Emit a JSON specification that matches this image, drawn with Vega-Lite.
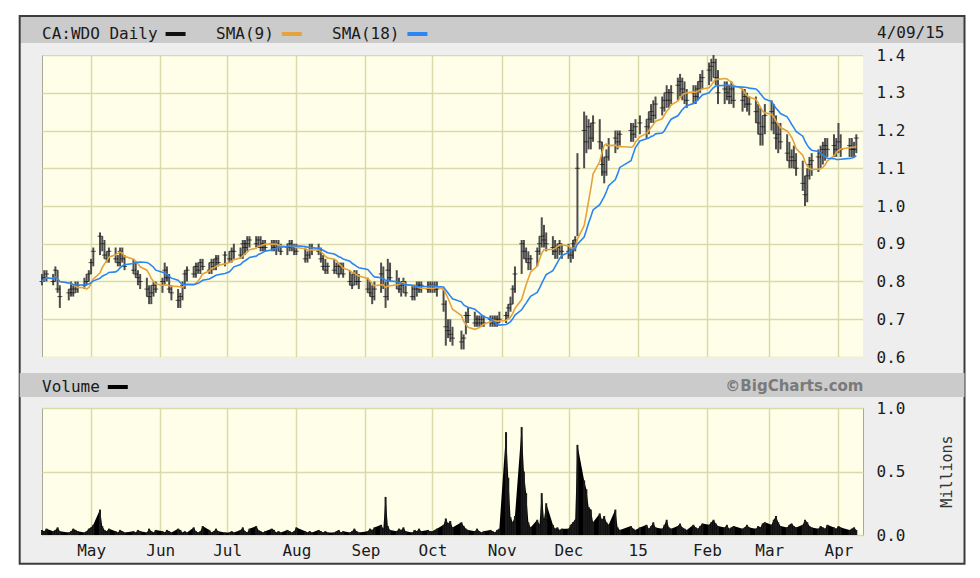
{
"$schema": "https://vega.github.io/schema/vega-lite/v6.json",
"padding": {"left": 18, "top": 14, "right": 15, "bottom": 13},
"autosize": {"type": "pad"},
"background": "white",
"bounds": "flush",
"spacing": 51,
"resolve": {"scale": {"color": "independent"}, "legend": {"color": "independent"}},
"config": {
  "view": {"fill": "#ffffe9", "stroke": "#a8a898", "strokeWidth": 1},
  "font": "DejaVu Sans Mono",
  "axis": {"labelFont": "DejaVu Sans Mono", "labelFontSize": 16, "labelColor": "#1a1a1a", "gridColor": "#d9d9a9", "gridWidth": 1.5, "gridOpacity": 1, "domain": false, "ticks": false},
  "legend": {"symbolType": "stroke", "symbolStrokeWidth": 4, "symbolSize": 400, "labelFont": "DejaVu Sans Mono", "labelFontSize": 16, "labelColor": "#1a1a1a", "columnPadding": 22, "padding": 0, "direction": "horizontal", "orient": "none", "legendX": 0, "legendY": -33}
},
"data": {"values": [
{"d":"2014-04-09","h":0.82,"l":0.79,"c":0.80,"v":0.04},
{"d":"2014-04-10","h":0.83,"l":0.80,"c":0.81,"v":0.03},
{"d":"2014-04-11","h":0.83,"l":0.80,"c":0.82,"v":0.05},
{"d":"2014-04-14","h":0.82,"l":0.79,"c":0.80,"v":0.03},
{"d":"2014-04-15","h":0.84,"l":0.80,"c":0.83,"v":0.04},
{"d":"2014-04-16","h":0.83,"l":0.77,"c":0.78,"v":0.06},
{"d":"2014-04-17","h":0.79,"l":0.73,"c":0.76,"v":0.03},
{"d":"2014-04-21","h":0.78,"l":0.75,"c":0.77,"v":0.02},
{"d":"2014-04-22","h":0.80,"l":0.76,"c":0.78,"v":0.03},
{"d":"2014-04-23","h":0.79,"l":0.76,"c":0.77,"v":0.05},
{"d":"2014-04-24","h":0.80,"l":0.77,"c":0.78,"v":0.04},
{"d":"2014-04-25","h":0.80,"l":0.77,"c":0.79,"v":0.03},
{"d":"2014-04-28","h":0.81,"l":0.78,"c":0.79,"v":0.02},
{"d":"2014-04-29","h":0.82,"l":0.79,"c":0.80,"v":0.03},
{"d":"2014-04-30","h":0.83,"l":0.80,"c":0.82,"v":0.05},
{"d":"2014-05-01","h":0.86,"l":0.82,"c":0.85,"v":0.06},
{"d":"2014-05-02","h":0.89,"l":0.84,"c":0.88,"v":0.08},
{"d":"2014-05-05","h":0.93,"l":0.87,"c":0.92,"v":0.20},
{"d":"2014-05-06","h":0.92,"l":0.88,"c":0.90,"v":0.07},
{"d":"2014-05-07","h":0.91,"l":0.86,"c":0.87,"v":0.04},
{"d":"2014-05-08","h":0.88,"l":0.85,"c":0.86,"v":0.03},
{"d":"2014-05-09","h":0.89,"l":0.85,"c":0.88,"v":0.05},
{"d":"2014-05-12","h":0.89,"l":0.85,"c":0.86,"v":0.03},
{"d":"2014-05-13","h":0.87,"l":0.84,"c":0.85,"v":0.02},
{"d":"2014-05-14","h":0.89,"l":0.84,"c":0.88,"v":0.04},
{"d":"2014-05-15","h":0.89,"l":0.85,"c":0.86,"v":0.03},
{"d":"2014-05-16","h":0.87,"l":0.83,"c":0.84,"v":0.02},
{"d":"2014-05-20","h":0.86,"l":0.82,"c":0.83,"v":0.03},
{"d":"2014-05-21","h":0.85,"l":0.81,"c":0.82,"v":0.02},
{"d":"2014-05-22","h":0.83,"l":0.79,"c":0.81,"v":0.04},
{"d":"2014-05-23","h":0.82,"l":0.78,"c":0.80,"v":0.03},
{"d":"2014-05-26","h":0.81,"l":0.76,"c":0.78,"v":0.02},
{"d":"2014-05-27","h":0.79,"l":0.74,"c":0.76,"v":0.05},
{"d":"2014-05-28","h":0.79,"l":0.74,"c":0.77,"v":0.03},
{"d":"2014-05-29","h":0.80,"l":0.76,"c":0.79,"v":0.02},
{"d":"2014-05-30","h":0.80,"l":0.77,"c":0.78,"v":0.04},
{"d":"2014-06-02","h":0.81,"l":0.77,"c":0.80,"v":0.03},
{"d":"2014-06-03","h":0.85,"l":0.79,"c":0.83,"v":0.02},
{"d":"2014-06-04","h":0.84,"l":0.80,"c":0.81,"v":0.04},
{"d":"2014-06-05","h":0.82,"l":0.77,"c":0.78,"v":0.03},
{"d":"2014-06-06","h":0.79,"l":0.75,"c":0.77,"v":0.02},
{"d":"2014-06-09","h":0.78,"l":0.73,"c":0.75,"v":0.05},
{"d":"2014-06-10","h":0.77,"l":0.73,"c":0.76,"v":0.04},
{"d":"2014-06-11","h":0.80,"l":0.75,"c":0.79,"v":0.02},
{"d":"2014-06-12","h":0.83,"l":0.78,"c":0.82,"v":0.03},
{"d":"2014-06-13","h":0.84,"l":0.80,"c":0.83,"v":0.02},
{"d":"2014-06-16","h":0.84,"l":0.81,"c":0.82,"v":0.06},
{"d":"2014-06-17","h":0.85,"l":0.81,"c":0.84,"v":0.03},
{"d":"2014-06-18","h":0.85,"l":0.82,"c":0.83,"v":0.02},
{"d":"2014-06-19","h":0.86,"l":0.82,"c":0.85,"v":0.03},
{"d":"2014-06-20","h":0.86,"l":0.83,"c":0.84,"v":0.07},
{"d":"2014-06-23","h":0.85,"l":0.82,"c":0.83,"v":0.04},
{"d":"2014-06-24","h":0.86,"l":0.82,"c":0.85,"v":0.02},
{"d":"2014-06-25","h":0.86,"l":0.83,"c":0.84,"v":0.03},
{"d":"2014-06-26","h":0.87,"l":0.83,"c":0.86,"v":0.05},
{"d":"2014-06-27","h":0.87,"l":0.84,"c":0.85,"v":0.03},
{"d":"2014-06-30","h":0.88,"l":0.84,"c":0.87,"v":0.02},
{"d":"2014-07-02","h":0.88,"l":0.85,"c":0.86,"v":0.02},
{"d":"2014-07-03","h":0.89,"l":0.85,"c":0.88,"v":0.03},
{"d":"2014-07-04","h":0.90,"l":0.86,"c":0.88,"v":0.02},
{"d":"2014-07-07","h":0.89,"l":0.86,"c":0.87,"v":0.04},
{"d":"2014-07-08","h":0.91,"l":0.86,"c":0.90,"v":0.06},
{"d":"2014-07-09","h":0.91,"l":0.87,"c":0.89,"v":0.03},
{"d":"2014-07-10","h":0.92,"l":0.88,"c":0.90,"v":0.02},
{"d":"2014-07-11","h":0.92,"l":0.89,"c":0.91,"v":0.05},
{"d":"2014-07-14","h":0.92,"l":0.89,"c":0.90,"v":0.07},
{"d":"2014-07-15","h":0.92,"l":0.89,"c":0.91,"v":0.04},
{"d":"2014-07-16","h":0.92,"l":0.88,"c":0.89,"v":0.03},
{"d":"2014-07-17","h":0.91,"l":0.88,"c":0.90,"v":0.02},
{"d":"2014-07-18","h":0.91,"l":0.88,"c":0.89,"v":0.03},
{"d":"2014-07-21","h":0.91,"l":0.88,"c":0.90,"v":0.05},
{"d":"2014-07-22","h":0.91,"l":0.88,"c":0.89,"v":0.04},
{"d":"2014-07-23","h":0.91,"l":0.87,"c":0.90,"v":0.02},
{"d":"2014-07-24","h":0.91,"l":0.88,"c":0.89,"v":0.03},
{"d":"2014-07-25","h":0.90,"l":0.87,"c":0.88,"v":0.02},
{"d":"2014-07-28","h":0.90,"l":0.87,"c":0.89,"v":0.04},
{"d":"2014-07-29","h":0.91,"l":0.88,"c":0.90,"v":0.03},
{"d":"2014-07-30","h":0.91,"l":0.88,"c":0.89,"v":0.02},
{"d":"2014-07-31","h":0.90,"l":0.87,"c":0.89,"v":0.03},
{"d":"2014-08-01","h":0.90,"l":0.87,"c":0.88,"v":0.06},
{"d":"2014-08-05","h":0.89,"l":0.85,"c":0.86,"v":0.03},
{"d":"2014-08-06","h":0.88,"l":0.85,"c":0.87,"v":0.02},
{"d":"2014-08-07","h":0.90,"l":0.86,"c":0.89,"v":0.03},
{"d":"2014-08-08","h":0.90,"l":0.87,"c":0.89,"v":0.02},
{"d":"2014-08-11","h":0.90,"l":0.87,"c":0.88,"v":0.04},
{"d":"2014-08-12","h":0.89,"l":0.85,"c":0.86,"v":0.03},
{"d":"2014-08-13","h":0.87,"l":0.83,"c":0.84,"v":0.02},
{"d":"2014-08-14","h":0.86,"l":0.82,"c":0.83,"v":0.03},
{"d":"2014-08-15","h":0.85,"l":0.82,"c":0.84,"v":0.02},
{"d":"2014-08-18","h":0.86,"l":0.82,"c":0.83,"v":0.02},
{"d":"2014-08-19","h":0.85,"l":0.82,"c":0.84,"v":0.03},
{"d":"2014-08-20","h":0.85,"l":0.81,"c":0.82,"v":0.04},
{"d":"2014-08-21","h":0.85,"l":0.82,"c":0.84,"v":0.02},
{"d":"2014-08-22","h":0.85,"l":0.81,"c":0.82,"v":0.03},
{"d":"2014-08-25","h":0.83,"l":0.79,"c":0.80,"v":0.02},
{"d":"2014-08-26","h":0.82,"l":0.78,"c":0.79,"v":0.03},
{"d":"2014-08-27","h":0.83,"l":0.79,"c":0.82,"v":0.05},
{"d":"2014-08-28","h":0.83,"l":0.79,"c":0.80,"v":0.03},
{"d":"2014-08-29","h":0.82,"l":0.78,"c":0.80,"v":0.02},
{"d":"2014-09-02","h":0.81,"l":0.77,"c":0.78,"v":0.03},
{"d":"2014-09-03","h":0.80,"l":0.76,"c":0.77,"v":0.05},
{"d":"2014-09-04","h":0.79,"l":0.74,"c":0.76,"v":0.04},
{"d":"2014-09-05","h":0.80,"l":0.75,"c":0.78,"v":0.06},
{"d":"2014-09-08","h":0.85,"l":0.77,"c":0.82,"v":0.08},
{"d":"2014-09-09","h":0.84,"l":0.78,"c":0.79,"v":0.05},
{"d":"2014-09-10","h":0.80,"l":0.73,"c":0.76,"v":0.30},
{"d":"2014-09-11","h":0.86,"l":0.75,"c":0.83,"v":0.07},
{"d":"2014-09-12","h":0.85,"l":0.80,"c":0.81,"v":0.04},
{"d":"2014-09-15","h":0.83,"l":0.78,"c":0.80,"v":0.03},
{"d":"2014-09-16","h":0.81,"l":0.77,"c":0.78,"v":0.05},
{"d":"2014-09-17","h":0.80,"l":0.76,"c":0.79,"v":0.04},
{"d":"2014-09-18","h":0.81,"l":0.77,"c":0.80,"v":0.06},
{"d":"2014-09-19","h":0.80,"l":0.76,"c":0.77,"v":0.03},
{"d":"2014-09-22","h":0.79,"l":0.75,"c":0.76,"v":0.02},
{"d":"2014-09-23","h":0.79,"l":0.75,"c":0.78,"v":0.04},
{"d":"2014-09-24","h":0.80,"l":0.76,"c":0.79,"v":0.03},
{"d":"2014-09-25","h":0.80,"l":0.77,"c":0.78,"v":0.05},
{"d":"2014-09-26","h":0.80,"l":0.77,"c":0.79,"v":0.03},
{"d":"2014-09-29","h":0.80,"l":0.77,"c":0.78,"v":0.04},
{"d":"2014-09-30","h":0.80,"l":0.77,"c":0.79,"v":0.03},
{"d":"2014-10-01","h":0.80,"l":0.77,"c":0.79,"v":0.03},
{"d":"2014-10-02","h":0.80,"l":0.77,"c":0.78,"v":0.04},
{"d":"2014-10-03","h":0.80,"l":0.76,"c":0.78,"v":0.05},
{"d":"2014-10-06","h":0.78,"l":0.72,"c":0.74,"v":0.08},
{"d":"2014-10-07","h":0.75,"l":0.63,"c":0.68,"v":0.13},
{"d":"2014-10-08","h":0.70,"l":0.65,"c":0.67,"v":0.09},
{"d":"2014-10-09","h":0.70,"l":0.64,"c":0.66,"v":0.11},
{"d":"2014-10-10","h":0.68,"l":0.63,"c":0.65,"v":0.06},
{"d":"2014-10-14","h":0.67,"l":0.62,"c":0.64,"v":0.10},
{"d":"2014-10-15","h":0.66,"l":0.62,"c":0.65,"v":0.07},
{"d":"2014-10-16","h":0.72,"l":0.66,"c":0.71,"v":0.05},
{"d":"2014-10-17","h":0.73,"l":0.69,"c":0.71,"v":0.04},
{"d":"2014-10-20","h":0.72,"l":0.68,"c":0.69,"v":0.03},
{"d":"2014-10-21","h":0.71,"l":0.68,"c":0.70,"v":0.05},
{"d":"2014-10-22","h":0.71,"l":0.68,"c":0.69,"v":0.03},
{"d":"2014-10-23","h":0.71,"l":0.68,"c":0.70,"v":0.02},
{"d":"2014-10-24","h":0.71,"l":0.68,"c":0.69,"v":0.03},
{"d":"2014-10-27","h":0.71,"l":0.68,"c":0.70,"v":0.04},
{"d":"2014-10-28","h":0.71,"l":0.68,"c":0.69,"v":0.03},
{"d":"2014-10-29","h":0.71,"l":0.68,"c":0.70,"v":0.02},
{"d":"2014-10-30","h":0.71,"l":0.68,"c":0.69,"v":0.04},
{"d":"2014-10-31","h":0.72,"l":0.69,"c":0.70,"v":0.05},
{"d":"2014-11-03","h":0.72,"l":0.69,"c":0.71,"v":0.81},
{"d":"2014-11-04","h":0.74,"l":0.70,"c":0.73,"v":0.45},
{"d":"2014-11-05","h":0.76,"l":0.72,"c":0.74,"v":0.14},
{"d":"2014-11-06","h":0.79,"l":0.74,"c":0.78,"v":0.10},
{"d":"2014-11-07","h":0.84,"l":0.77,"c":0.82,"v":0.15},
{"d":"2014-11-10","h":0.91,"l":0.82,"c":0.90,"v":0.85},
{"d":"2014-11-11","h":0.91,"l":0.86,"c":0.88,"v":0.50},
{"d":"2014-11-12","h":0.89,"l":0.85,"c":0.86,"v":0.33},
{"d":"2014-11-13","h":0.88,"l":0.83,"c":0.85,"v":0.10},
{"d":"2014-11-14","h":0.87,"l":0.83,"c":0.86,"v":0.06},
{"d":"2014-11-17","h":0.89,"l":0.84,"c":0.88,"v":0.12},
{"d":"2014-11-18","h":0.92,"l":0.87,"c":0.90,"v":0.08},
{"d":"2014-11-19","h":0.97,"l":0.89,"c":0.92,"v":0.33},
{"d":"2014-11-20","h":0.95,"l":0.89,"c":0.91,"v":0.12},
{"d":"2014-11-21","h":0.93,"l":0.88,"c":0.90,"v":0.25},
{"d":"2014-11-24","h":0.92,"l":0.87,"c":0.89,"v":0.08},
{"d":"2014-11-25","h":0.91,"l":0.86,"c":0.88,"v":0.05},
{"d":"2014-11-26","h":0.90,"l":0.86,"c":0.89,"v":0.06},
{"d":"2014-11-27","h":0.91,"l":0.87,"c":0.90,"v":0.04},
{"d":"2014-11-28","h":0.90,"l":0.86,"c":0.88,"v":0.05},
{"d":"2014-12-01","h":0.90,"l":0.86,"c":0.88,"v":0.05},
{"d":"2014-12-02","h":0.89,"l":0.85,"c":0.87,"v":0.08},
{"d":"2014-12-03","h":0.91,"l":0.86,"c":0.90,"v":0.10},
{"d":"2014-12-04","h":0.92,"l":0.88,"c":0.91,"v":0.12},
{"d":"2014-12-05","h":1.14,"l":0.92,"c":1.10,"v":0.71},
{"d":"2014-12-08","h":1.25,"l":1.10,"c":1.20,"v":0.43},
{"d":"2014-12-09","h":1.24,"l":1.14,"c":1.17,"v":0.36},
{"d":"2014-12-10","h":1.23,"l":1.15,"c":1.21,"v":0.22},
{"d":"2014-12-11","h":1.22,"l":1.15,"c":1.18,"v":0.20},
{"d":"2014-12-12","h":1.24,"l":1.17,"c":1.22,"v":0.10},
{"d":"2014-12-15","h":1.23,"l":1.15,"c":1.17,"v":0.17},
{"d":"2014-12-16","h":1.17,"l":1.08,"c":1.11,"v":0.12},
{"d":"2014-12-17","h":1.13,"l":1.06,"c":1.09,"v":0.15},
{"d":"2014-12-18","h":1.15,"l":1.08,"c":1.13,"v":0.10},
{"d":"2014-12-19","h":1.18,"l":1.12,"c":1.16,"v":0.08},
{"d":"2014-12-22","h":1.20,"l":1.14,"c":1.18,"v":0.20},
{"d":"2014-12-23","h":1.20,"l":1.15,"c":1.17,"v":0.06},
{"d":"2014-12-24","h":1.20,"l":1.16,"c":1.19,"v":0.04},
{"d":"2014-12-29","h":1.22,"l":1.17,"c":1.20,"v":0.07},
{"d":"2014-12-30","h":1.22,"l":1.17,"c":1.19,"v":0.05},
{"d":"2014-12-31","h":1.23,"l":1.18,"c":1.21,"v":0.04},
{"d":"2015-01-02","h":1.24,"l":1.19,"c":1.22,"v":0.06},
{"d":"2015-01-05","h":1.23,"l":1.18,"c":1.21,"v":0.08},
{"d":"2015-01-06","h":1.25,"l":1.19,"c":1.23,"v":0.05},
{"d":"2015-01-07","h":1.27,"l":1.22,"c":1.25,"v":0.07},
{"d":"2015-01-08","h":1.28,"l":1.22,"c":1.24,"v":0.10},
{"d":"2015-01-09","h":1.29,"l":1.23,"c":1.27,"v":0.06},
{"d":"2015-01-12","h":1.29,"l":1.24,"c":1.26,"v":0.05},
{"d":"2015-01-13","h":1.30,"l":1.25,"c":1.28,"v":0.08},
{"d":"2015-01-14","h":1.32,"l":1.26,"c":1.30,"v":0.12},
{"d":"2015-01-15","h":1.31,"l":1.26,"c":1.28,"v":0.06},
{"d":"2015-01-16","h":1.32,"l":1.27,"c":1.30,"v":0.05},
{"d":"2015-01-19","h":1.34,"l":1.28,"c":1.32,"v":0.07},
{"d":"2015-01-20","h":1.35,"l":1.29,"c":1.33,"v":0.09},
{"d":"2015-01-21","h":1.34,"l":1.28,"c":1.31,"v":0.06},
{"d":"2015-01-22","h":1.33,"l":1.27,"c":1.30,"v":0.05},
{"d":"2015-01-23","h":1.31,"l":1.26,"c":1.28,"v":0.04},
{"d":"2015-01-26","h":1.32,"l":1.27,"c":1.30,"v":0.08},
{"d":"2015-01-27","h":1.32,"l":1.27,"c":1.29,"v":0.06},
{"d":"2015-01-28","h":1.33,"l":1.28,"c":1.31,"v":0.05},
{"d":"2015-01-29","h":1.35,"l":1.30,"c":1.33,"v":0.07},
{"d":"2015-01-30","h":1.36,"l":1.31,"c":1.34,"v":0.09},
{"d":"2015-02-02","h":1.38,"l":1.32,"c":1.36,"v":0.08},
{"d":"2015-02-03","h":1.39,"l":1.33,"c":1.37,"v":0.10},
{"d":"2015-02-04","h":1.40,"l":1.34,"c":1.38,"v":0.12},
{"d":"2015-02-05","h":1.39,"l":1.32,"c":1.34,"v":0.09},
{"d":"2015-02-06","h":1.36,"l":1.27,"c":1.30,"v":0.07},
{"d":"2015-02-09","h":1.33,"l":1.27,"c":1.31,"v":0.06},
{"d":"2015-02-10","h":1.33,"l":1.28,"c":1.30,"v":0.08},
{"d":"2015-02-11","h":1.32,"l":1.27,"c":1.29,"v":0.05},
{"d":"2015-02-12","h":1.33,"l":1.27,"c":1.31,"v":0.06},
{"d":"2015-02-13","h":1.32,"l":1.26,"c":1.28,"v":0.07},
{"d":"2015-02-17","h":1.31,"l":1.25,"c":1.28,"v":0.05},
{"d":"2015-02-18","h":1.31,"l":1.26,"c":1.29,"v":0.06},
{"d":"2015-02-19","h":1.30,"l":1.25,"c":1.27,"v":0.08},
{"d":"2015-02-20","h":1.29,"l":1.24,"c":1.27,"v":0.06},
{"d":"2015-02-23","h":1.29,"l":1.22,"c":1.25,"v":0.05},
{"d":"2015-02-24","h":1.27,"l":1.19,"c":1.22,"v":0.07},
{"d":"2015-02-25","h":1.26,"l":1.16,"c":1.19,"v":0.06},
{"d":"2015-02-26","h":1.24,"l":1.16,"c":1.21,"v":0.09},
{"d":"2015-02-27","h":1.27,"l":1.19,"c":1.24,"v":0.10},
{"d":"2015-03-02","h":1.28,"l":1.20,"c":1.25,"v":0.08},
{"d":"2015-03-03","h":1.27,"l":1.19,"c":1.22,"v":0.12},
{"d":"2015-03-04","h":1.24,"l":1.15,"c":1.18,"v":0.15},
{"d":"2015-03-05","h":1.22,"l":1.14,"c":1.19,"v":0.10},
{"d":"2015-03-06","h":1.22,"l":1.15,"c":1.17,"v":0.07},
{"d":"2015-03-09","h":1.19,"l":1.12,"c":1.14,"v":0.06},
{"d":"2015-03-10","h":1.17,"l":1.10,"c":1.12,"v":0.08},
{"d":"2015-03-11","h":1.15,"l":1.10,"c":1.13,"v":0.09},
{"d":"2015-03-12","h":1.16,"l":1.10,"c":1.12,"v":0.07},
{"d":"2015-03-13","h":1.14,"l":1.08,"c":1.10,"v":0.06},
{"d":"2015-03-16","h":1.12,"l":1.04,"c":1.06,"v":0.08},
{"d":"2015-03-17","h":1.08,"l":1.00,"c":1.03,"v":0.12},
{"d":"2015-03-18","h":1.10,"l":1.01,"c":1.08,"v":0.10},
{"d":"2015-03-19","h":1.13,"l":1.07,"c":1.11,"v":0.07},
{"d":"2015-03-20","h":1.14,"l":1.08,"c":1.12,"v":0.06},
{"d":"2015-03-23","h":1.15,"l":1.09,"c":1.13,"v":0.05},
{"d":"2015-03-24","h":1.16,"l":1.10,"c":1.14,"v":0.07},
{"d":"2015-03-25","h":1.17,"l":1.11,"c":1.15,"v":0.06},
{"d":"2015-03-26","h":1.18,"l":1.12,"c":1.16,"v":0.05},
{"d":"2015-03-27","h":1.18,"l":1.13,"c":1.15,"v":0.08},
{"d":"2015-03-30","h":1.19,"l":1.13,"c":1.16,"v":0.06},
{"d":"2015-03-31","h":1.18,"l":1.13,"c":1.15,"v":0.05},
{"d":"2015-04-01","h":1.22,"l":1.14,"c":1.17,"v":0.07},
{"d":"2015-04-02","h":1.19,"l":1.13,"c":1.15,"v":0.06},
{"d":"2015-04-06","h":1.18,"l":1.13,"c":1.16,"v":0.04},
{"d":"2015-04-07","h":1.18,"l":1.13,"c":1.15,"v":0.05},
{"d":"2015-04-08","h":1.17,"l":1.13,"c":1.15,"v":0.06},
{"d":"2015-04-09","h":1.19,"l":1.14,"c":1.18,"v":0.04}
]},
"vconcat": [
{
  "width": 821,
  "height": 302,
  "resolve": {"axis": {"y": "independent"}},
  "transform": [
    {"window": [{"op": "mean", "field": "c", "as": "s9"}], "frame": [-8, 0], "sort": [{"field": "d", "order": "ascending"}]},
    {"window": [{"op": "mean", "field": "c", "as": "s18"}], "frame": [-17, 0], "sort": [{"field": "d", "order": "ascending"}]}
  ],
  "layer": [
    {"data": {"values": [{}]}, "mark": {"type": "rect", "fill": "#eeeeee", "clip": false},
     "encoding": {
       "x": {"datum": {"year": 2014, "month": 3, "date": 30, "utc": true}, "type": "temporal",
         "scale": {"type": "utc", "padding": 0, "domain": [{"year": 2014, "month": 4, "date": 9, "utc": true}, {"year": 2015, "month": 4, "date": 12, "utc": true}]},
         "axis": {"orient": "bottom", "grid": true, "labels": false, "ticks": false, "domain": false, "title": null,
           "values": [{"year":2014,"month":5,"date":1,"utc":true},{"year":2014,"month":6,"date":1,"utc":true},{"year":2014,"month":7,"date":1,"utc":true},{"year":2014,"month":8,"date":1,"utc":true},{"year":2014,"month":9,"date":1,"utc":true},{"year":2014,"month":10,"date":1,"utc":true},{"year":2014,"month":11,"date":1,"utc":true},{"year":2014,"month":12,"date":1,"utc":true},{"year":2015,"month":1,"date":1,"utc":true},{"year":2015,"month":2,"date":1,"utc":true},{"year":2015,"month":3,"date":1,"utc":true},{"year":2015,"month":4,"date":1,"utc":true}]}},
       "x2": {"datum": {"year": 2015, "month": 5, "date": 27, "hours": 12, "utc": true}},
       "y": {"datum": 1.4, "type": "quantitative", "scale": {"domain": [0.6, 1.4], "nice": false, "zero": false},
         "axis": {"orient": "right", "grid": false, "zindex": 1, "values": [0.6, 0.7, 0.8, 0.9, 1.0, 1.1, 1.2, 1.3, 1.4], "format": ".1f", "labelPadding": 13,
           "title": "4/09/15", "titleFont": "DejaVu Sans Mono", "titleFontSize": 16, "titleFontWeight": "normal", "titleColor": "#1a1a1a",
           "titleAngle": 0, "titleX": 81, "titleY": -23, "titleAlign": "right", "titleBaseline": "middle"}},
       "y2": {"datum": 1.5033}}},
    {"data": {"values": [{}]}, "mark": {"type": "rect", "fill": "#eeeeee", "clip": false},
     "encoding": {"x": {"datum": {"year": 2014, "month": 3, "date": 30, "utc": true}, "type": "temporal"}, "x2": {"datum": {"year": 2015, "month": 5, "date": 27, "hours": 12, "utc": true}},
       "y": {"datum": 0.052, "type": "quantitative", "axis": null}, "y2": {"datum": 0.6}}},
    {"data": {"values": [{}]}, "mark": {"type": "rect", "fill": "#eeeeee", "clip": false},
     "encoding": {"x": {"datum": {"year": 2014, "month": 3, "date": 30, "utc": true}, "type": "temporal"}, "x2": {"datum": {"year": 2014, "month": 4, "date": 9, "utc": true}},
       "y": {"datum": 0.052, "type": "quantitative", "axis": null}, "y2": {"datum": 1.5033}}},
    {"data": {"values": [{}]}, "mark": {"type": "rect", "fill": "#eeeeee", "clip": false},
     "encoding": {"x": {"datum": {"year": 2015, "month": 4, "date": 12, "utc": true}, "type": "temporal"}, "x2": {"datum": {"year": 2015, "month": 5, "date": 27, "hours": 12, "utc": true}},
       "y": {"datum": 0.052, "type": "quantitative", "axis": null}, "y2": {"datum": 1.5033}}},
    {"data": {"values": [{}]}, "mark": {"type": "rect", "fill": "#cbcbcb", "clip": false},
     "encoding": {"x": {"datum": {"year": 2014, "month": 3, "date": 30, "utc": true}, "type": "temporal"}, "x2": {"datum": {"year": 2015, "month": 5, "date": 27, "hours": 12, "utc": true}},
       "y": {"datum": 1.4318, "type": "quantitative", "axis": null}, "y2": {"datum": 1.5033}}},
    {"data": {"values": [{}]}, "mark": {"type": "rect", "fill": "#ffffff", "fillOpacity": 0, "stroke": "#3c3c3c", "strokeWidth": 2, "clip": false},
     "encoding": {"x": {"datum": {"year": 2014, "month": 3, "date": 30, "utc": true}, "type": "temporal"}, "x2": {"datum": {"year": 2015, "month": 5, "date": 27, "hours": 12, "utc": true}},
       "y": {"datum": 0.052, "type": "quantitative", "axis": null}, "y2": {"datum": 1.5033}}},
    {"mark": {"type": "rule", "color": "#4d4d4d", "strokeWidth": 2},
     "encoding": {"x": {"field": "d", "type": "temporal"},
       "y": {"field": "l", "type": "quantitative", "axis": {"orient": "right", "grid": true, "labels": false, "ticks": false, "domain": false, "title": null, "zindex": 0, "values": [0.6, 0.7, 0.8, 0.9, 1.0, 1.1, 1.2, 1.3, 1.4]}},
       "y2": {"field": "h"}}},
    {"mark": {"type": "tick", "orient": "horizontal", "size": 5, "thickness": 1},
     "encoding": {"x": {"field": "d", "type": "temporal"}, "y": {"field": "c", "type": "quantitative", "axis": null},
       "color": {"datum": "CA:WDO Daily", "type": "nominal",
         "scale": {"domain": ["CA:WDO Daily", "SMA(9)", "SMA(18)"], "range": ["#111111", "#e4a33c", "#2b86f2"]},
         "legend": {"title": null, "encode": {"labels": {"update": {"x": {"value": 0}}}, "symbols": {"update": {"x": {"signal": "length(datum.label) * 9.63 + 18"}}}}}}}},
    {"mark": {"type": "line", "strokeWidth": 1.6},
     "encoding": {"x": {"field": "d", "type": "temporal"}, "y": {"field": "s9", "type": "quantitative", "axis": null},
       "color": {"datum": "SMA(9)", "type": "nominal",
         "legend": {"title": null, "encode": {"labels": {"update": {"x": {"value": 0}}}, "symbols": {"update": {"x": {"signal": "length(datum.label) * 9.63 + 18"}}}}}}}},
    {"mark": {"type": "line", "strokeWidth": 1.6},
     "encoding": {"x": {"field": "d", "type": "temporal"}, "y": {"field": "s18", "type": "quantitative", "axis": null},
       "color": {"datum": "SMA(18)", "type": "nominal",
         "legend": {"title": null, "encode": {"labels": {"update": {"x": {"value": 0}}}, "symbols": {"update": {"x": {"signal": "length(datum.label) * 9.63 + 18"}}}}}}}}
  ]
},
{
  "width": 821,
  "height": 127,
  "resolve": {"axis": {"x": "independent"}},
  "layer": [
    {"data": {"values": [{}]}, "mark": {"type": "rect", "fill": "#cbcbcb", "clip": false},
     "encoding": {
       "x": {"datum": {"year": 2014, "month": 3, "date": 30, "utc": true}, "type": "temporal",
         "scale": {"type": "utc", "padding": 0, "domain": [{"year": 2014, "month": 4, "date": 9, "utc": true}, {"year": 2015, "month": 4, "date": 12, "utc": true}]},
         "axis": {"orient": "bottom", "grid": false, "zindex": 1, "labels": true, "ticks": false, "domain": false, "labelPadding": 7,
           "title": "©BigCharts.com", "titleFont": "DejaVu Sans", "titleFontSize": 15, "titleFontWeight": "bold", "titleColor": "#7a7a7a",
           "titleX": 821, "titleY": -150, "titleAlign": "right", "titleBaseline": "middle", "titleAngle": 0,
           "labelExpr": "utcFormat(datum.value, '%m') == '01' ? utcFormat(datum.value, '%y') : utcFormat(datum.value, '%b')",
           "values": [{"year":2014,"month":5,"date":1,"utc":true},{"year":2014,"month":6,"date":1,"utc":true},{"year":2014,"month":7,"date":1,"utc":true},{"year":2014,"month":8,"date":1,"utc":true},{"year":2014,"month":9,"date":1,"utc":true},{"year":2014,"month":10,"date":1,"utc":true},{"year":2014,"month":11,"date":1,"utc":true},{"year":2014,"month":12,"date":1,"utc":true},{"year":2015,"month":1,"date":1,"utc":true},{"year":2015,"month":2,"date":1,"utc":true},{"year":2015,"month":3,"date":1,"utc":true},{"year":2015,"month":4,"date":1,"utc":true}]}},
       "x2": {"datum": {"year": 2015, "month": 5, "date": 27, "hours": 12, "utc": true}},
       "y": {"datum": 1.087, "type": "quantitative", "scale": {"domain": [0, 1], "nice": false, "zero": false},
         "axis": {"orient": "right", "grid": true, "values": [0, 0.5, 1], "format": ".1f", "labelPadding": 13,
           "title": "Millions", "titleFont": "DejaVu Sans Mono", "titleFontSize": 15, "titleFontWeight": "normal", "titleColor": "#333333",
           "titleAngle": 270, "titleX": 83, "titleY": 63, "titleAlign": "center", "titleBaseline": "middle"}},
       "y2": {"datum": 1.276}}},
    {"mark": {"type": "area", "interpolate": "linear"},
     "encoding": {
       "x": {"field": "d", "type": "temporal",
         "axis": {"orient": "bottom", "grid": true, "labels": false, "ticks": false, "domain": false, "title": null, "zindex": 0,
           "values": [{"year":2014,"month":5,"date":1,"utc":true},{"year":2014,"month":6,"date":1,"utc":true},{"year":2014,"month":7,"date":1,"utc":true},{"year":2014,"month":8,"date":1,"utc":true},{"year":2014,"month":9,"date":1,"utc":true},{"year":2014,"month":10,"date":1,"utc":true},{"year":2014,"month":11,"date":1,"utc":true},{"year":2014,"month":12,"date":1,"utc":true},{"year":2015,"month":1,"date":1,"utc":true},{"year":2015,"month":2,"date":1,"utc":true},{"year":2015,"month":3,"date":1,"utc":true},{"year":2015,"month":4,"date":1,"utc":true}]}},
       "y": {"field": "v", "type": "quantitative"},
       "color": {"datum": "Volume", "type": "nominal", "scale": {"domain": ["Volume"], "range": ["#000000"]},
         "legend": {"title": null, "symbolStrokeColor": "#000000", "symbolFillColor": "#000000",
           "encode": {"labels": {"update": {"x": {"value": 0}}}, "symbols": {"update": {"x": {"signal": "length(datum.label) * 9.63 + 18"}, "stroke": {"value": "#000000"}}}}}}}},
    {"mark": {"type": "bar", "width": 2, "color": "#1a1a1a"},
     "encoding": {"x": {"field": "d", "type": "temporal", "axis": null}, "y": {"field": "v", "type": "quantitative"}}}
  ]
}
]
}
